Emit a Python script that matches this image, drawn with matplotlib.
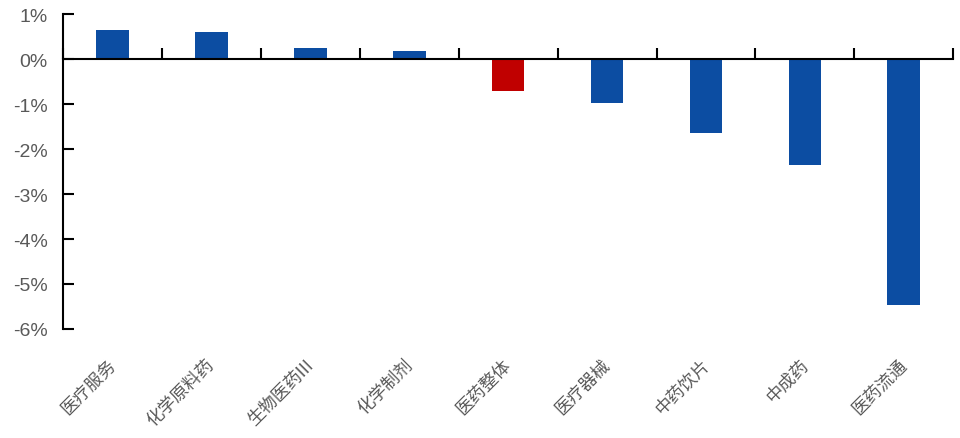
import numpy as np
import matplotlib.pyplot as plt
import matplotlib.ticker as ticker

plt.rcParams['font.family'] = ['Liberation Sans', 'Noto Sans CJK SC', 'DejaVu Sans']

# 各子行业涨跌幅（%）
categories = ["医疗服务", "化学原料药", "生物医药III", "化学制剂", "医药整体",
              "医疗器械", "中药饮片", "中成药", "医药流通"]
changes = [0.65, 0.59, 0.25, 0.18, -0.72, -0.98, -1.65, -2.35, -5.47]
highlight = "医药整体"

blue = "#0c4da2"
red = "#c00000"
colors = [red if c == highlight else blue for c in categories]

fig = plt.figure(figsize=(9.6, 4.39), dpi=100)
ax = fig.add_axes([0.0656, 0.2483, 0.9274, 0.7175])

x = np.arange(len(categories))
ax.bar(x, changes, width=0.33, color=colors, zorder=2)

ax.set_xlim(-0.5, len(categories) - 0.5)
ax.set_ylim(-6, 1)
ax.yaxis.set_major_locator(ticker.MultipleLocator(1))
ax.yaxis.set_major_formatter(ticker.FuncFormatter(lambda v, p: f"{v:.0f}%"))

for s in ["top", "right"]:
    ax.spines[s].set_visible(False)
ax.spines["left"].set_linewidth(1.5)
ax.spines["bottom"].set_position(("data", 0))
ax.spines["bottom"].set_linewidth(1.5)
ax.spines["bottom"].set_zorder(3)

# tick marks on category boundaries, pointing up from the zero line
ax.set_xticks(np.arange(len(categories) + 1) - 0.5)
ax.tick_params(axis="x", which="major", direction="in", length=8, width=1.5,
               labelbottom=False)
ax.tick_params(axis="y", direction="in", length=8, width=1.5,
               labelsize=14, labelcolor="#595959", pad=11)

# category labels along the bottom of the axes
for i, name in enumerate(categories):
    ax.text(i - 0.06, -6.58, name, rotation=45, rotation_mode="anchor",
            ha="right", va="top", fontsize=12.5, color="#595959",
            family=['Noto Sans CJK SC', 'DejaVu Sans'], fontweight="light")

fig.savefig("out.png", dpi=100)
